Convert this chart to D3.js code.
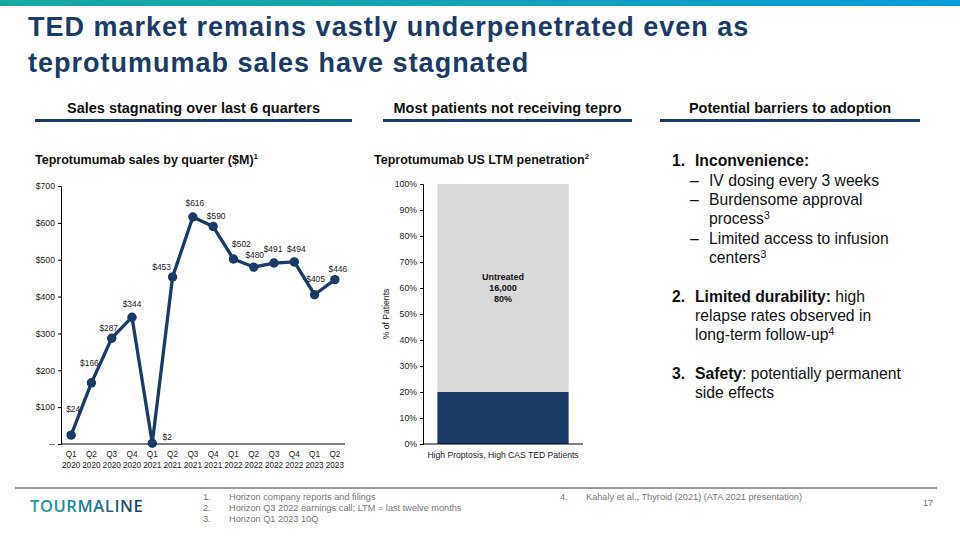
<!DOCTYPE html>
<html><head><meta charset="utf-8">
<script src="https://cdn.jsdelivr.net/npm/d3@7"></script>
<style>
body{margin:0;background:#fff;}
svg{display:block;font-family:"Liberation Sans",Arial,sans-serif;}
</style></head>
<body>
<svg id="c" width="960" height="540"></svg>
<script>
// ---- data ----
const quarters = ["Q1","Q2","Q3","Q4","Q1","Q2","Q3","Q4","Q1","Q2","Q3","Q4","Q1","Q2"];
const years = ["2020","2020","2020","2020","2021","2021","2021","2021","2022","2022","2022","2022","2023","2023"];
const sales = [24,166,287,344,2,453,616,590,502,480,491,494,405,446];
const salesTicks = [0,100,200,300,400,500,600,700];
const salesTickLabels = ["--","$100","$200","$300","$400","$500","$600","$700"];
// label nudges (dx, dy) relative to each point
const labelNudge = [[2,-26],[-2,-20],[-3,-10],[0,-13],[15,-6],[-11,-10],[2,-14],[3,-11],[8,-15],[1,-12],[-1,-14],[2,-13],[1,-16],[3,-11]];

const penCategory = ["High Proptosis, High CAS TED Patients"];
const penSegments = ["Treated","Untreated"];
const penValues = [20,80];
const penPatients = [4000,16000];
const penTicks = [0,10,20,30,40,50,60,70,80,90,100];

const navy = "#1b3a66";
const svg = d3.select("#c");

// top gradient bar
const defs = svg.append("defs");
const g1 = defs.append("linearGradient").attr("id","topg");
g1.append("stop").attr("offset","0%").attr("stop-color","#18a89b");
g1.append("stop").attr("offset","100%").attr("stop-color","#0a9ad8");
svg.append("rect").attr("x",0).attr("y",0).attr("width",960).attr("height",6).attr("fill","url(#topg)");
const g2 = defs.append("linearGradient").attr("id","logog");
g2.append("stop").attr("offset","0%").attr("stop-color","#1ba3a0");
g2.append("stop").attr("offset","55%").attr("stop-color","#1a7a98");
g2.append("stop").attr("offset","100%").attr("stop-color","#1b3a66");

// title
const title = svg.append("text").attr("fill",navy).attr("font-weight","bold").attr("font-size",27).attr("letter-spacing",1);
title.append("tspan").attr("x",28).attr("y",36).text("TED market remains vastly underpenetrated even as");
title.append("tspan").attr("x",28).attr("y",72).text("teprotumumab sales have stagnated");

// section headers
const sections = [
  {t:"Sales stagnating over last 6 quarters", x1:35, x2:352},
  {t:"Most patients not receiving tepro", x1:383, x2:632},
  {t:"Potential barriers to adoption", x1:660, x2:920}
];
sections.forEach(s=>{
  svg.append("text").attr("x",(s.x1+s.x2)/2).attr("y",113).attr("text-anchor","middle")
    .attr("font-weight","bold").attr("font-size",14.5).attr("fill","#111")
    .style("font-family","'Liberation Sans Narrow','Liberation Sans',Arial,sans-serif")
    .attr("font-stretch","condensed").text(s.t);
  svg.append("rect").attr("x",s.x1).attr("y",119).attr("width",s.x2-s.x1).attr("height",3).attr("fill",navy);
});

// chart subtitles
const st1 = svg.append("text").attr("x",35).attr("y",164).attr("font-weight","bold").attr("font-size",12.5).attr("fill","#111");
st1.append("tspan").text("Teprotumumab sales by quarter ($M)");
st1.append("tspan").attr("font-size",8).attr("dy",-5).text("1");
const st2 = svg.append("text").attr("x",374).attr("y",164).attr("font-weight","bold").attr("font-size",12.5).attr("fill","#111");
st2.append("tspan").text("Teprotumumab US LTM penetration");
st2.append("tspan").attr("font-size",8).attr("dy",-5).text("2");

// ---- line chart ----
const idx = d3.range(sales.length);
const x = d3.scalePoint().domain(idx).range([61,345]).padding(0.5);
const y = d3.scaleLinear().domain([0,700]).range([444,186]);
const lc = svg.append("g");
const yAx = lc.append("g").attr("transform","translate(61,0)")
  .call(d3.axisLeft(y).tickValues(salesTicks).tickFormat((d,i)=>salesTickLabels[i]).tickSize(3).tickPadding(3));
yAx.select(".domain").attr("stroke","#000");
yAx.selectAll("text").attr("font-size",8.7).attr("fill","#222").style("font-family","'Liberation Sans',Arial,sans-serif");
const xAx = lc.append("g").attr("transform","translate(0,444)")
  .call(d3.axisBottom(x).tickSize(0).tickFormat(""));
xAx.select(".domain").attr("stroke","#000").attr("d","M61,0H345");
idx.forEach(i=>{
  const t = lc.append("text").attr("x",x(i)).attr("text-anchor","middle").attr("font-size",8.2).attr("fill","#222");
  t.append("tspan").attr("x",x(i)).attr("y",457).text(quarters[i]);
  t.append("tspan").attr("x",x(i)).attr("y",468).text(years[i]);
});
lc.append("path").datum(sales).attr("fill","none").attr("stroke",navy).attr("stroke-width",3.3)
  .attr("stroke-linejoin","round")
  .attr("d",d3.line().x((d,i)=>x(i)).y(d=>y(d)));
lc.selectAll("circle.pt").data(sales).join("circle").attr("class","pt")
  .attr("cx",(d,i)=>x(i)).attr("cy",d=>y(d)).attr("r",4.7).attr("fill",navy);
lc.selectAll("text.lbl").data(sales).join("text").attr("class","lbl")
  .attr("x",(d,i)=>x(i)+labelNudge[i][0]).attr("y",(d,i)=>y(d)+labelNudge[i][1]+3)
  .attr("text-anchor","middle").attr("font-size",8.4).attr("fill","#222").text(d=>"$"+d);

// ---- stacked bar ----
const bx = d3.scaleBand().domain(penCategory).range([423,583]).paddingInner(0.18).paddingOuter(0.09);
const by = d3.scaleLinear().domain([0,100]).range([444,184]);
const bc = svg.append("g");
const stack = d3.stack().keys(penSegments)([{cat:penCategory[0],Treated:penValues[0],Untreated:penValues[1]}]);
const segColors = [navy,"#d9d9d9"];
stack.forEach((s,k)=>{
  bc.selectAll(null).data(s).join("rect")
    .attr("x",d=>bx(d.data.cat)).attr("width",bx.bandwidth())
    .attr("y",d=>by(d[1])).attr("height",d=>by(d[0])-by(d[1])).attr("fill",segColors[k]);
});
const byAx = bc.append("g").attr("transform","translate(423,0)")
  .call(d3.axisLeft(by).tickValues(penTicks).tickFormat(d=>d+"%").tickSize(3).tickPadding(3));
byAx.select(".domain").attr("stroke","#000");
byAx.selectAll("text").attr("font-size",8.7).attr("fill","#222").style("font-family","'Liberation Sans',Arial,sans-serif");
const bxAx = bc.append("g").attr("transform","translate(0,444)").call(d3.axisBottom(bx).tickSize(0).tickPadding(8));
bxAx.select(".domain").attr("stroke","#000").attr("d","M423,0H583");
bxAx.selectAll("text").attr("font-size",8.6).attr("fill","#222").style("font-family","'Liberation Sans',Arial,sans-serif");
bc.append("text").attr("transform","translate(389,314) rotate(-90)").attr("text-anchor","middle")
  .attr("font-size",8.6).attr("fill","#222").text("% of Patients");
const mid = bx(penCategory[0])+bx.bandwidth()/2;
const ul = bc.append("text").attr("text-anchor","middle").attr("font-size",9).attr("font-weight","bold").attr("fill","#111");
const uy = by(60);
ul.append("tspan").attr("x",mid).attr("y",uy-8).text(penSegments[1]);
ul.append("tspan").attr("x",mid).attr("y",uy+3).text(d3.format(",")(penPatients[1]));
ul.append("tspan").attr("x",mid).attr("y",uy+14).text(penValues[1]+"%");

// ---- right text ----
const rt = svg.append("g").attr("font-size",15.7).attr("fill","#111");
function line(yy, parts, xx){
  const t = rt.append("text").attr("x",xx).attr("y",yy);
  parts.forEach(p=>{
    const s = t.append("tspan").text(p.t);
    if(p.b) s.attr("font-weight","bold");
    if(p.sup) s.attr("font-size",10.5).attr("dy",-5);
  });
}
rt.append("text").attr("x",672).attr("y",166).attr("font-weight","bold").text("1.");
line(166,[{t:"Inconvenience:",b:true}],695);
rt.append("text").attr("x",690).attr("y",186).text("–");
line(186,[{t:"IV dosing every 3 weeks"}],709);
rt.append("text").attr("x",690).attr("y",205).text("–");
line(205,[{t:"Burdensome approval"}],709);
line(224,[{t:"process"},{t:"3",sup:true}],709);
rt.append("text").attr("x",690).attr("y",244).text("–");
line(244,[{t:"Limited access to infusion"}],709);
line(263,[{t:"centers"},{t:"3",sup:true}],709);
rt.append("text").attr("x",672).attr("y",302).attr("font-weight","bold").text("2.");
line(302,[{t:"Limited durability:",b:true},{t:" high"}],695);
line(321,[{t:"relapse rates observed in"}],695);
line(340,[{t:"long-term follow-up"},{t:"4",sup:true}],695);
rt.append("text").attr("x",672).attr("y",379).attr("font-weight","bold").text("3.");
line(379,[{t:"Safety",b:true},{t:": potentially permanent"}],695);
line(398,[{t:"side effects"}],695);

// ---- footer ----
svg.append("rect").attr("x",15).attr("y",487).attr("width",922).attr("height",2).attr("fill","#9a9a9a");
svg.append("text").attr("x",30).attr("y",512).attr("font-size",16.5).attr("font-weight",600)
  .attr("fill","url(#logog)").attr("letter-spacing",0.6).style("font-family","'Open Sans','Liberation Sans',sans-serif")
  .text("TOURMALINE");
const notes = [
  {n:"1.", t:"Horizon company reports and filings", x:203, y:500},
  {n:"2.", t:"Horizon Q3 2022 earnings call; LTM = last twelve months", x:203, y:511},
  {n:"3.", t:"Horizon Q1 2023 10Q", x:203, y:522},
  {n:"4.", t:"Kahaly et al., Thyroid (2021) (ATA 2021 presentation)", x:560, y:500}
];
notes.forEach(n=>{
  svg.append("text").attr("x",n.x).attr("y",n.y).attr("font-size",9.2).attr("fill","#777").text(n.n);
  svg.append("text").attr("x",n.x+26).attr("y",n.y).attr("font-size",9.2).attr("fill","#777").text(n.t);
});
svg.append("text").attr("x",933).attr("y",506).attr("text-anchor","end").attr("font-size",9).attr("fill","#777").text("17");
</script>
</body></html>
